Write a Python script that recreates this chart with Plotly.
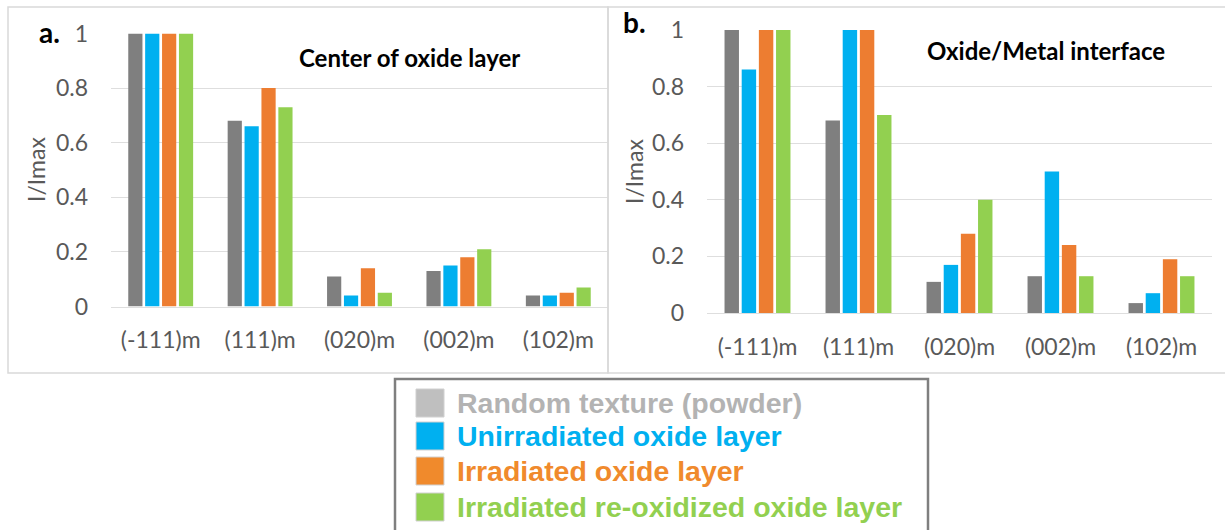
import plotly.graph_objects as go

W, H = 1225, 530

categories = ["(-111)m", "(111)m", "(020)m", "(002)m", "(102)m"]
series_names = [
    "Random texture (powder)",
    "Unirradiated oxide layer",
    "Irradiated oxide layer",
    "Irradiated re-oxidized oxide layer",
]
center_values = [
    [1.0, 0.68, 0.11, 0.13, 0.04],
    [1.0, 0.66, 0.04, 0.15, 0.04],
    [1.0, 0.80, 0.14, 0.18, 0.05],
    [1.0, 0.73, 0.05, 0.21, 0.07],
]
interface_values = [
    [1.0, 0.68, 0.11, 0.13, 0.035],
    [0.86, 1.0, 0.17, 0.50, 0.07],
    [1.0, 1.0, 0.28, 0.24, 0.19],
    [1.0, 0.70, 0.40, 0.13, 0.13],
]
y_ticks = [0, 0.2, 0.4, 0.6, 0.8, 1]
y_tick_labels = ["0", "0.2", "0.4", "0.6", "0.8", "1"]

bar_colors = ["#7f7f7f", "#00b0f0", "#ed7d31", "#92d050"]
legend_box_colors = ["#bfbfbf", "#00b0f0", "#f08a2c", "#92d050"]
legend_text_colors = ["#b3b3b3", "#00b0f0", "#f08a2c", "#92d050"]


def px(x):
    return x / W


def py(y):
    return 1 - y / H


fig = go.Figure()
for i, name in enumerate(series_names):
    fig.add_trace(go.Bar(x=categories, y=center_values[i], name=name,
                         marker=dict(color=bar_colors[i], line=dict(width=0)),
                         xaxis="x", yaxis="y", showlegend=False))
for i, name in enumerate(series_names):
    fig.add_trace(go.Bar(x=categories, y=interface_values[i], name=name,
                         marker=dict(color=bar_colors[i], line=dict(width=0)),
                         xaxis="x2", yaxis="y2", showlegend=False))

tick_font = dict(family="Lato, Carlito, Calibri, sans-serif", size=23, color="#595959")
grid = "#dedede"

common_y = dict(range=[0, 1], tickvals=y_ticks, ticktext=y_tick_labels,
                showgrid=True, gridcolor=grid, gridwidth=1, zeroline=False,
                showline=False, ticks="", tickfont=tick_font,
                ticklabelstandoff=22, fixedrange=True, automargin=False)
common_x = dict(showgrid=False, showline=True, linecolor=grid, linewidth=1,
                ticks="", tickfont=tick_font, ticklabelstandoff=13,
                fixedrange=True, automargin=False)

fig.update_layout(
    width=W, height=H, autosize=False,
    margin=dict(l=0, r=0, t=0, b=0, pad=0, autoexpand=False),
    paper_bgcolor="white", plot_bgcolor="white",
    barmode="group", bargap=0.32, bargroupgap=0.16,
    xaxis=dict(domain=[px(111), px(608)], anchor="y", **common_x),
    yaxis=dict(domain=[py(306.5), py(33.5)], anchor="x", **common_y),
    xaxis2=dict(domain=[px(707), px(1212)], anchor="y2", **common_x),
    yaxis2=dict(domain=[py(313), py(30)], anchor="x2", **common_y),
)

shapes = []
# panel frames
shapes.append(dict(type="rect", xref="paper", yref="paper",
                   x0=px(8), x1=px(608), y0=py(373), y1=py(7),
                   line=dict(color="#d9d9d9", width=1.5)))
shapes.append(dict(type="rect", xref="paper", yref="paper",
                   x0=px(608), x1=px(1228), y0=py(373), y1=py(7),
                   line=dict(color="#d9d9d9", width=1.5)))
# legend box
shapes.append(dict(type="rect", xref="paper", yref="paper",
                   x0=px(395), x1=px(928), y0=py(540), y1=py(379),
                   fillcolor="white", line=dict(color="#7f7f7f", width=2.5)))

annotations = []
row_centers = [403, 436, 471, 507]
for i, name in enumerate(series_names):
    yc = row_centers[i]
    shapes.append(dict(type="rect", xref="paper", yref="paper",
                       x0=px(416), x1=px(444), y0=py(yc + 14), y1=py(yc - 14),
                       fillcolor=legend_box_colors[i],
                       line=dict(color="#d0d0d0", width=1)))
    annotations.append(dict(text=f"<b>{name}</b>", xref="paper", yref="paper",
                            x=px(455), y=py(yc), xanchor="left", yanchor="middle",
                            showarrow=False,
                            font=dict(family="Liberation Sans, Arial, sans-serif",
                                      size=28.5, color=legend_text_colors[i])))

title_font = dict(family="Lato, Carlito, Calibri, sans-serif", size=23, color="#595959")
annotations += [
    dict(text="I/Imax", textangle=-90, xref="paper", yref="paper",
         x=px(36), y=py(170), xanchor="center", yanchor="middle",
         showarrow=False, font=title_font),
    dict(text="I/Imax", textangle=-90, xref="paper", yref="paper",
         x=px(634), y=py(172), xanchor="center", yanchor="middle",
         showarrow=False, font=title_font),
    dict(text="<b>a.</b>", xref="paper", yref="paper", x=px(50), y=py(32),
         xanchor="center", yanchor="middle", showarrow=False,
         font=dict(family="Lato, Carlito, sans-serif", size=28, color="black")),
    dict(text="<b>b.</b>", xref="paper", yref="paper", x=px(634), y=py(22),
         xanchor="center", yanchor="middle", showarrow=False,
         font=dict(family="Lato, Carlito, sans-serif", size=28, color="black")),
    dict(text="<b>Center of oxide layer</b>", xref="paper", yref="paper",
         x=px(409), y=py(58), xanchor="center", yanchor="middle", showarrow=False,
         font=dict(family="Lato, Carlito, sans-serif", size=24, color="black")),
    dict(text="<b>Oxide/Metal interface</b>", xref="paper", yref="paper",
         x=px(1046), y=py(51), xanchor="center", yanchor="middle", showarrow=False,
         font=dict(family="Lato, Carlito, sans-serif", size=24, color="black")),
]

fig.update_layout(shapes=shapes, annotations=annotations)
fig.write_html(
    "out.html",
    config={"displayModeBar": False, "staticPlot": True},
    post_script="document.body.style.margin='0';document.body.style.overflow='hidden';",
)
